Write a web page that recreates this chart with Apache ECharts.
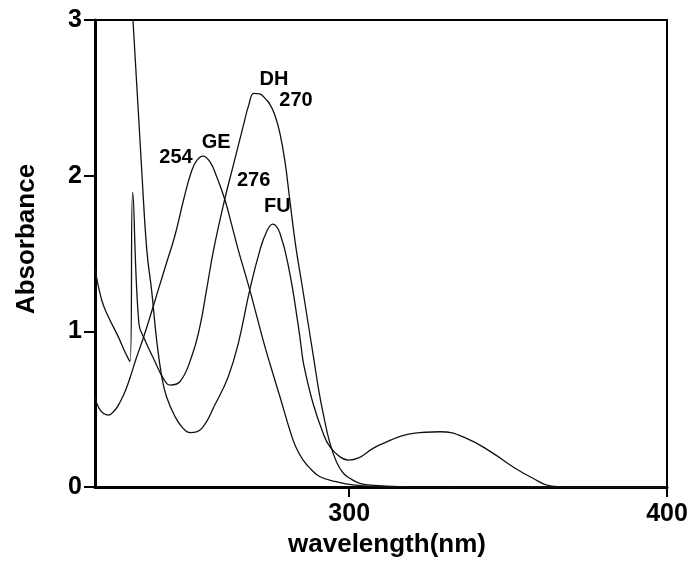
<!DOCTYPE html>
<html>
<head>
<meta charset="utf-8">
<script src="https://cdn.jsdelivr.net/npm/echarts@6/dist/echarts.min.js"></script>
<style>
  html, body { margin: 0; padding: 0; background: #fff; }
  #chart { width: 691px; height: 579px; }
</style>
</head>
<body>
<div id="chart"></div>
<script>
// UV absorption spectra (wavelength in nm, absorbance)
const geWl  = [220.0, 221.6, 224.2, 226.3, 227.9, 229.4, 231.0, 232.9, 235.2, 237.3, 239.9, 242.3, 245.2, 248.0, 250.4, 252.1, 254.0, 256.2, 258.3, 260.9, 263.1, 265.1, 268.7, 272.9, 275.0, 278.2, 281.3, 283.2, 285.5, 287.9, 290.8, 296.0, 301.2, 308.0, 316.0, 340.0, 400.0];
const geAbs = [0.580, 0.495, 0.462, 0.495, 0.546, 0.610, 0.700, 0.822, 0.957, 1.092, 1.266, 1.426, 1.619, 1.855, 2.030, 2.100, 2.126, 2.088, 1.993, 1.844, 1.677, 1.522, 1.266, 0.944, 0.795, 0.580, 0.366, 0.257, 0.173, 0.116, 0.066, 0.034, 0.013, 0.003, 0.001, 0.0, 0.0];

const dhWl  = [220.0, 222.1, 224.2, 227.3, 229.4, 231.0, 231.86, 233.8, 235.7, 238.9, 241.5, 243.6, 246.7, 250.4, 253.0, 255.1, 257.3, 260.9, 263.7, 266.6, 268.4, 270.0, 271.8, 273.8, 275.0, 276.6, 278.2, 279.8, 281.3, 283.2, 285.1, 287.0, 288.9, 290.4, 291.8, 293.9, 296.0, 298.1, 300.2, 303.3, 308.0, 315.9, 341.0, 400.0];
const dhAbs = [1.407, 1.201, 1.094, 0.966, 0.869, 0.805, 1.893, 1.052, 0.944, 0.805, 0.698, 0.655, 0.676, 0.837, 1.030, 1.266, 1.522, 1.855, 2.081, 2.315, 2.455, 2.528, 2.525, 2.490, 2.460, 2.390, 2.272, 2.088, 1.844, 1.542, 1.304, 1.060, 0.816, 0.623, 0.473, 0.283, 0.161, 0.090, 0.056, 0.024, 0.010, 0.003, 0.0, 0.0];

const fuWl  = [231.2, 231.95, 234.7, 236.3, 237.8, 239.4, 241.0, 242.5, 245.2, 247.4, 249.9, 253.6, 257.7, 261.9, 265.1, 268.7, 271.9, 274.0, 275.9, 278.2, 281.3, 283.7, 284.8, 285.7, 288.6, 291.8, 293.9, 297.0, 299.7, 309.6, 320.1, 328.5, 336.9, 345.3, 351.5, 357.8, 363.6, 372.5, 400.0];
const fuAbs = [3.225, 3.000, 2.036, 1.522, 1.266, 0.944, 0.709, 0.580, 0.452, 0.385, 0.349, 0.377, 0.527, 0.707, 0.923, 1.266, 1.522, 1.640, 1.689, 1.630, 1.373, 1.073, 0.912, 0.784, 0.538, 0.345, 0.259, 0.195, 0.173, 0.270, 0.345, 0.355, 0.313, 0.216, 0.130, 0.056, 0.006, 0.0, 0.0];

// Peak annotations: text and the (wavelength, absorbance) spot they sit at
const noteText = ['DH', '270', 'GE', '254', '276', 'FU'];
const noteWl   = [276.35, 283.27, 258.14, 245.47, 269.91, 277.39];
const noteAbs  = [2.619, 2.486, 2.212, 2.115, 1.967, 1.801];

// Axis tick values
const xTicks = [300, 400];
const yTicks = [0, 1, 2, 3];

const FONT = '"Liberation Sans", Arial, Helvetica, sans-serif';
const zip = (xs, ys) => xs.map((x, i) => [x, ys[i]]);

const lineStyle = { color: '#111', width: 1.3 };
function spectrum(name, xs, ys) {
  return {
    name: name,
    type: 'line',
    data: zip(xs, ys),
    symbol: 'none',
    smooth: 0.45,
    clip: true,
    lineStyle: lineStyle,
    silent: true,
    z: 3
  };
}

const chart = echarts.init(document.getElementById('chart'), null, { renderer: 'canvas' });

chart.setOption({
  animation: false,
  backgroundColor: '#fff',
  grid: {
    left: 95, right: 24, top: 20, bottom: 92,
    show: true, borderColor: '#000', borderWidth: 2, backgroundColor: 'transparent'
  },
  xAxis: {
    type: 'value',
    min: 220, max: 400,
    name: 'wavelength(nm)',
    nameLocation: 'middle',
    nameGap: 44,
    nameTextStyle: { fontFamily: FONT, fontSize: 26, fontWeight: 'bold', color: '#000', padding: [0, 0, 0, 12] },
    axisLine: { show: true, onZero: false, lineStyle: { color: '#000', width: 3 } },
    axisTick: { show: true, length: 10, customValues: xTicks, lineStyle: { color: '#000', width: 2 } },
    axisLabel: { customValues: xTicks, fontFamily: FONT, fontSize: 25, fontWeight: 'bold', color: '#000', margin: 15 },
    splitLine: { show: false }
  },
  yAxis: {
    type: 'value',
    min: 0, max: 3,
    name: 'Absorbance',
    nameLocation: 'middle',
    nameGap: 55,
    nameTextStyle: { fontFamily: FONT, fontSize: 26, fontWeight: 'bold', color: '#000', padding: [0, 0, 0, 29] },
    axisLine: { show: true, onZero: false, lineStyle: { color: '#000', width: 3 } },
    axisTick: { show: true, length: 11, customValues: yTicks, lineStyle: { color: '#000', width: 2 } },
    axisLabel: { customValues: yTicks, fontFamily: FONT, fontSize: 25, fontWeight: 'bold', color: '#000', margin: 13 },
    splitLine: { show: false }
  },
  series: [
    spectrum('GE', geWl, geAbs),
    spectrum('DH', dhWl, dhAbs),
    spectrum('FU', fuWl, fuAbs),
    {
      name: 'notes',
      type: 'scatter',
      symbolSize: 0,
      silent: true,
      z: 5,
      itemStyle: { opacity: 1 },
      data: noteText.map((t, i) => ({ name: t, value: [noteWl[i], noteAbs[i]] })),
      label: {
        show: true,
        position: 'inside',
        formatter: p => p.name,
        fontFamily: FONT,
        fontSize: 20,
        fontWeight: 'bold',
        color: '#000',
        opacity: 1
      }
    }
  ]
});
</script>
</body>
</html>
